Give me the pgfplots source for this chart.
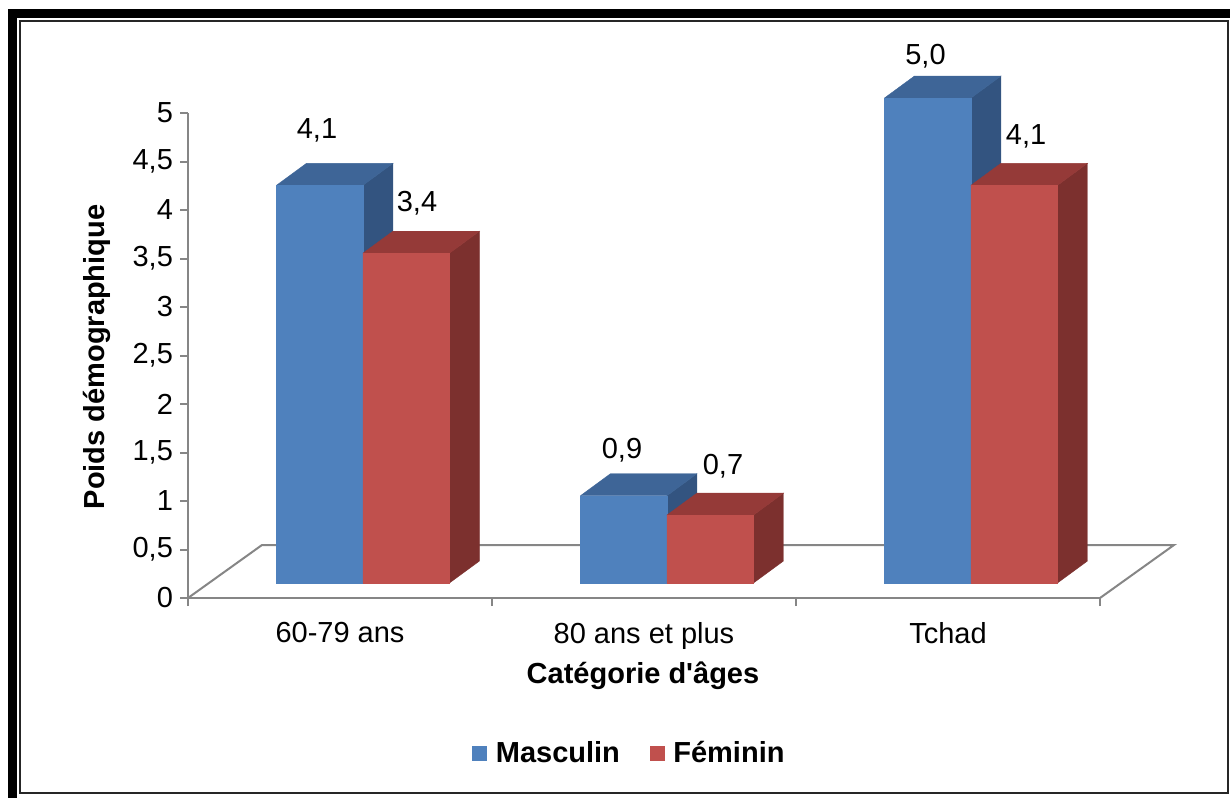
\documentclass[border=0pt]{standalone}
\usepackage{pgfplots}
\pgfplotsset{compat=1.18}
\usepackage{pgfplotstable}
\usepackage{fontspec}
\setmainfont{Liberation Sans}[Ligatures=TeXOff]

\definecolor{bfront}{RGB}{79,129,189}
\definecolor{btop}{RGB}{62,101,151}
\definecolor{bside}{RGB}{51,84,128}
\definecolor{rfront}{RGB}{192,80,77}
\definecolor{rtop}{RGB}{149,58,56}
\definecolor{rside}{RGB}{124,48,46}
\definecolor{axgray}{RGB}{134,134,134}

\pgfplotstableread{
pos masc fem
0 4.1 3.4
1 0.9 0.7
2 5.0 4.1
}\datatable

\newcommand\bw{0.2845}
\newcommand\bb{0.1546}
\newcommand\bdx{0.0987}
\newcommand\bdy{0.2268}
\newcommand\fsz{\fontsize{14.5}{17}\selectfont}

% #1 x left, #2 value, #3 front, #4 top, #5 side
\newcommand\barthreed[5]{%
 \pgfmathsetmacro\xa{#1}%
 \pgfmathsetmacro\xb{#1+\bw}%
 \pgfmathsetmacro\xc{#1+\bdx}%
 \pgfmathsetmacro\xd{#1+\bw+\bdx}%
 \pgfmathsetmacro\ya{\bb}%
 \pgfmathsetmacro\yb{\bb+#2}%
 \pgfmathsetmacro\yc{\bb+\bdy}%
 \pgfmathsetmacro\yd{\bb+#2+\bdy}%
 \addplot[fill=#5,draw=#5,line width=0.2pt,forget plot] coordinates {(\xb,\ya) (\xd,\yc) (\xd,\yd) (\xb,\yb) (\xb,\ya)};
 \addplot[fill=#4,draw=#4,line width=0.2pt,forget plot] coordinates {(\xa,\yb) (\xb,\yb) (\xd,\yd) (\xc,\yd) (\xa,\yb)};
 \addplot[fill=#3,draw=#3,line width=0.2pt,forget plot] coordinates {(\xa,\ya) (\xb,\ya) (\xb,\yb) (\xa,\yb) (\xa,\ya)};
}

\begin{document}
\pgfplotstablegetelem{0}{masc}\of\datatable \let\mA\pgfplotsretval
\pgfplotstablegetelem{1}{masc}\of\datatable \let\mB\pgfplotsretval
\pgfplotstablegetelem{2}{masc}\of\datatable \let\mC\pgfplotsretval
\pgfplotstablegetelem{0}{fem}\of\datatable \let\fA\pgfplotsretval
\pgfplotstablegetelem{1}{fem}\of\datatable \let\fB\pgfplotsretval
\pgfplotstablegetelem{2}{fem}\of\datatable \let\fC\pgfplotsretval
\begin{tikzpicture}
\useasboundingbox (0,0) rectangle (615pt,399pt);
% frame
\fill[black] (4pt,0pt) rectangle (8.5pt,394.5pt);
\fill[black] (4pt,390pt) rectangle (615pt,394.5pt);
\draw[black!85,line width=1pt] (10pt,2.5pt) rectangle (614pt,388.5pt);
\begin{axis}[
  at={(94pt,100pt)}, anchor=south west,
  scale only axis, width=456pt, height=242.5pt,
  xmin=0, xmax=3, ymin=0, ymax=5,
  enlargelimits=false, clip=false,
  axis x line=bottom, axis y line=left,
  axis line style={axgray, line width=1pt, -},
  tick style={axgray, line width=1pt},
  tick align=outside,
  major tick length=4pt, minor tick length=4pt,
  xtick={0.5,1.5,2.5},
  xticklabels={60-79 ans, 80 ans et plus, Tchad},
  major x tick style={draw=none},
  minor xtick={0,1,2,3},
  ytick distance=0.5,
  ticklabel style={font=\fsz},
  xticklabel style={yshift=-4.5pt},
  yticklabel style={/pgf/number format/.cd, fixed, use comma, assume math mode=true},
  xlabel={Catégorie d'âges},
  ylabel={Poids démographique},
  xlabel style={font=\bfseries\fsz, at={(axis description cs:0.4989,-0.1608)}, anchor=center},
  ylabel style={font=\bfseries\fsz, at={(axis description cs:-0.0998,0.497)}, anchor=center},
  legend columns=2,
  legend style={draw=none, fill=none, at={(0.4852,-0.3196)}, anchor=center,
    font=\bfseries\fsz, /tikz/every even column/.append style={column sep=13pt}},
  legend image code/.code={\fill[#1,draw=none] (0pt,-3.75pt) rectangle (7.5pt,3.75pt); \path (9.5pt,0pt);},
]
% floor
\addplot[axgray, line width=1pt, forget plot] coordinates {(0,0) (0.2434,0.5464) (3.2434,0.5464) (3,0)};
% bars
\barthreed{0.291}{\mA}{bfront}{btop}{bside}
\barthreed{0.5755}{\fA}{rfront}{rtop}{rside}
\barthreed{1.291}{\mB}{bfront}{btop}{bside}
\barthreed{1.5755}{\fB}{rfront}{rtop}{rside}
\barthreed{2.291}{\mC}{bfront}{btop}{bside}
\barthreed{2.5755}{\fC}{rfront}{rtop}{rside}
% labels
\node[font=\fsz] at (axis cs:0.4243,4.825) {\pgfmathprintnumber[fixed,fixed zerofill,precision=1,use comma,assume math mode=true]{\mA}};
\node[font=\fsz] at (axis cs:0.7533,4.072) {\pgfmathprintnumber[fixed,fixed zerofill,precision=1,use comma,assume math mode=true]{\fA}};
\node[font=\fsz] at (axis cs:1.4276,1.526) {\pgfmathprintnumber[fixed,fixed zerofill,precision=1,use comma,assume math mode=true]{\mB}};
\node[font=\fsz] at (axis cs:1.7599,1.361) {\pgfmathprintnumber[fixed,fixed zerofill,precision=1,use comma,assume math mode=true]{\fB}};
\node[font=\fsz] at (axis cs:2.426,5.582) {\pgfmathprintnumber[fixed,fixed zerofill,precision=1,use comma,assume math mode=true]{\mC}};
\node[font=\fsz] at (axis cs:2.757,4.763) {\pgfmathprintnumber[fixed,fixed zerofill,precision=1,use comma,assume math mode=true]{\fC}};
\addlegendimage{fill=bfront}
\addlegendentry{Masculin}
\addlegendimage{fill=rfront}
\addlegendentry{Féminin}
\end{axis}
\end{tikzpicture}
\end{document}
